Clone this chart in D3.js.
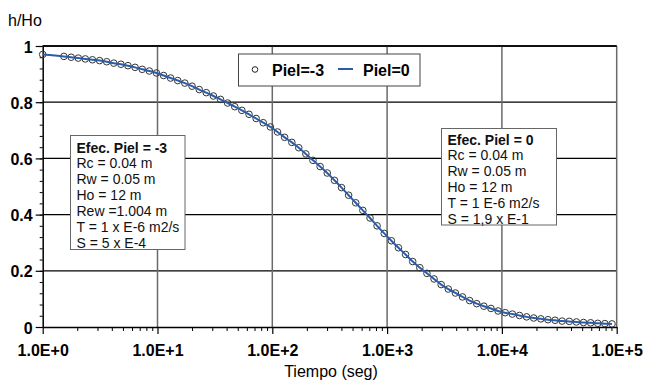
<!DOCTYPE html>
<html>
<head>
<meta charset="utf-8">
<script src="https://cdn.jsdelivr.net/npm/d3@7"></script>
<style>
  body { margin: 0; background: #fff; }
  text { font-family: "Liberation Sans", Arial, sans-serif; }
</style>
</head>
<body>
<script>
// tiempo (seg) de cada punto
var tiempo = [1, 1.53, 1.77, 2.04, 2.35, 2.71, 3.13, 3.61, 4.16, 4.80, 5.53,
  6.38, 7.36, 8.49, 9.79, 11.3, 13.0, 15.0, 17.3, 20.0, 23.1,
  26.6, 30.7, 35.4, 40.8, 47.1, 54.3, 62.7, 72.3, 83.4, 96.2,
  111, 128, 148, 170, 196, 226, 261, 301, 348, 401,
  462, 533, 615, 710, 818, 944, 1089, 1256, 1449, 1671,
  1928, 2223, 2564, 2958, 3412, 3936, 4539, 5236, 6039, 6966,
  8035, 9268, 10690, 12330, 14220, 16410, 18920, 21830, 25180, 29040,
  33500, 38640, 44570, 51400, 59290, 68390, 78890, 91000];

// h/Ho, Piel = -3 (circulos)
var pielMenos3 = [0.970, 0.963, 0.960, 0.957, 0.954, 0.951, 0.948, 0.944, 0.939, 0.935, 0.930,
  0.924, 0.917, 0.911, 0.904, 0.895, 0.886, 0.877, 0.868, 0.857, 0.845,
  0.834, 0.822, 0.810, 0.797, 0.784, 0.771, 0.757, 0.742, 0.727, 0.712,
  0.694, 0.675, 0.657, 0.638, 0.616, 0.593, 0.571, 0.548, 0.522, 0.496,
  0.469, 0.442, 0.415, 0.388, 0.360, 0.333, 0.307, 0.282, 0.258, 0.233,
  0.211, 0.191, 0.171, 0.151, 0.135, 0.121, 0.107, 0.094, 0.083, 0.074,
  0.066, 0.057, 0.051, 0.046, 0.041, 0.036, 0.032, 0.029, 0.026, 0.024,
  0.021, 0.020, 0.018, 0.016, 0.015, 0.013, 0.012, 0.011];

// h/Ho, Piel = 0 (linea) -- coincide con la curva de Piel = -3
var piel0 = pielMenos3;

var yTicks = [0, 0.2, 0.4, 0.6, 0.8, 1];
var xTicks = [1, 10, 100, 1000, 10000, 100000];
var xTickLabels = ["1.0E+0", "1.0E+1", "1.0E+2", "1.0E+3", "1.0E+4", "1.0E+5"];
var leyenda = ["Piel=-3", "Piel=0"];
var cuadroPielMenos3 = ["Efec. Piel = -3", "Rc = 0.04 m", "Rw = 0.05 m", "Ho = 12 m",
  "Rew =1.004 m", "T = 1 x E-6 m2/s", "S = 5 x E-4"];
var cuadroPiel0 = ["Efec. Piel = 0", "Rc = 0.04 m", "Rw = 0.05 m", "Ho = 12 m",
  "T = 1 E-6 m2/s", "S = 1,9 x E-1"];

var width = 645, height = 383;
var plotLeft = 42.7, plotRight = 616.7, plotTop = 46, plotBottom = 327;
var azul = "#2b5ca8";

var svg = d3.select("body")
    .append("svg")
    .attr("width", width)
    .attr("height", height);

var x = d3.scaleLog().domain([1, 100000]).range([plotLeft, plotRight]);
var y = d3.scaleLinear().domain([0, 1]).range([plotBottom, plotTop]);

// rejilla horizontal (negra)
svg.selectAll(".hgrid")
    .data(yTicks.filter(function (d) { return d > 0; }))
    .enter()
    .append("line")
    .attr("x1", plotLeft)
    .attr("x2", plotRight)
    .attr("y1", function (d) { return y(d); })
    .attr("y2", function (d) { return y(d); })
    .attr("stroke", "#000")
    .attr("stroke-width", 1.3);

// rejilla vertical (gris)
svg.selectAll(".vgrid")
    .data(xTicks.slice(1))
    .enter()
    .append("line")
    .attr("x1", function (d) { return x(d); })
    .attr("x2", function (d) { return x(d); })
    .attr("y1", plotTop)
    .attr("y2", plotBottom)
    .attr("stroke", "#6a6a6a")
    .attr("stroke-width", 1.5);

// eje y
var minorY = d3.range(0, 1.001, 0.04);
svg.append("g")
    .attr("transform", "translate(" + plotLeft + ",0)")
    .call(d3.axisLeft(y).tickValues(minorY).tickSize(3).tickFormat(""))
    .call(function (g) { g.select(".domain").remove(); });

svg.append("g")
    .attr("transform", "translate(" + plotLeft + ",0)")
    .call(d3.axisLeft(y).tickValues(yTicks).tickSize(7).tickSizeOuter(0)
        .tickFormat(function (d) { return d3.format("")(+d.toFixed(1)); }))
    .call(function (g) {
        g.select(".domain").attr("stroke-width", 1.5);
        g.selectAll(".tick line").attr("stroke-width", 1.2);
        g.selectAll("text")
            .attr("x", -10)
            .attr("dy", "0.38em")
            .style("font-family", "'Liberation Sans', Arial, sans-serif")
            .style("font-size", "16px")
            .style("font-weight", "bold")
            .attr("fill", "#000");
    });

// eje x
var minorX = [];
xTicks.slice(0, -1).forEach(function (d) {
    for (var i = 2; i <= 9; i++) minorX.push(d * i);
});
svg.append("g")
    .attr("transform", "translate(0," + plotBottom + ")")
    .call(d3.axisBottom(x).tickValues(minorX).tickSize(4).tickFormat(""))
    .call(function (g) { g.select(".domain").remove(); });

svg.append("g")
    .attr("transform", "translate(0," + plotBottom + ")")
    .call(d3.axisBottom(x).tickValues(xTicks).tickSize(7).tickSizeOuter(0)
        .tickFormat(function (d, i) { return xTickLabels[i]; }))
    .call(function (g) {
        g.select(".domain").attr("stroke-width", 1.5);
        g.selectAll(".tick line").attr("stroke-width", 1.2);
        g.selectAll("text")
            .attr("y", 14)
            .attr("dy", "0.95em")
            .style("font-family", "'Liberation Sans', Arial, sans-serif")
            .style("font-size", "16px")
            .style("font-weight", "bold")
            .attr("fill", "#000");
    });

// marco superior
svg.append("line")
    .attr("x1", plotLeft).attr("x2", plotRight)
    .attr("y1", plotTop).attr("y2", plotTop)
    .attr("stroke", "#000").attr("stroke-width", 1.5);

// titulos de ejes
svg.append("text")
    .attr("x", 8)
    .attr("y", 26)
    .style("font-size", "16px")
    .text("h/Ho");

svg.append("text")
    .attr("x", 331)
    .attr("y", 377)
    .attr("text-anchor", "middle")
    .style("font-size", "16px")
    .text("Tiempo (seg)");

// curva Piel = -3 (circulos)
var puntos = tiempo.map(function (t, i) { return [t, pielMenos3[i]]; });
svg.selectAll(".punto")
    .data(puntos)
    .enter()
    .append("circle")
    .attr("class", "punto")
    .attr("cx", function (d) { return x(d[0]); })
    .attr("cy", function (d) { return y(d[1]); })
    .attr("r", 3.3)
    .attr("fill", "none")
    .attr("stroke", "#333")
    .attr("stroke-width", 1);

// curva Piel = 0 (linea)
var linea = d3.line()
    .x(function (d) { return x(d[0]); })
    .y(function (d) { return y(d[1]); })
    .curve(d3.curveMonotoneX);

svg.append("path")
    .datum(tiempo.map(function (t, i) { return [t, piel0[i]]; }))
    .attr("d", linea)
    .attr("fill", "none")
    .attr("stroke", azul)
    .attr("stroke-width", 2);

// leyenda
var leg = svg.append("g");
leg.append("rect")
    .attr("x", 238.5).attr("y", 54)
    .attr("width", 181.5).attr("height", 32)
    .attr("fill", "#fff").attr("stroke", "#444").attr("stroke-width", 1);
leg.append("circle")
    .attr("cx", 255).attr("cy", 69.5).attr("r", 2.8)
    .attr("fill", "#fff").attr("stroke", "#222");
leg.append("text")
    .attr("x", 272).attr("y", 76)
    .style("font-size", "16px").style("font-weight", "bold")
    .text(leyenda[0]);
leg.append("line")
    .attr("x1", 338).attr("x2", 353)
    .attr("y1", 69).attr("y2", 69)
    .attr("stroke", azul).attr("stroke-width", 2);
leg.append("text")
    .attr("x", 363).attr("y", 76)
    .style("font-size", "16px").style("font-weight", "bold")
    .text(leyenda[1]);

// cuadros de texto
function cuadro(lineas, bx, by, bw, bh, tx, ty) {
    var g = svg.append("g");
    g.append("rect")
        .attr("x", bx).attr("y", by)
        .attr("width", bw).attr("height", bh)
        .attr("fill", "#fff").attr("stroke", "#666").attr("stroke-width", 1);
    g.selectAll("text")
        .data(lineas)
        .enter()
        .append("text")
        .attr("x", tx)
        .attr("y", function (d, i) { return ty + i * 15.9; })
        .style("font-size", "14px")
        .style("font-weight", function (d, i) { return i === 0 ? "bold" : "normal"; })
        .attr("fill", "#111")
        .text(function (d) { return d; });
}

cuadro(cuadroPielMenos3, 70.5, 135.5, 114.5, 114, 76.5, 152.5);
cuadro(cuadroPiel0, 441.5, 128.5, 115, 96.5, 447.5, 144.5);
</script>
</body>
</html>
